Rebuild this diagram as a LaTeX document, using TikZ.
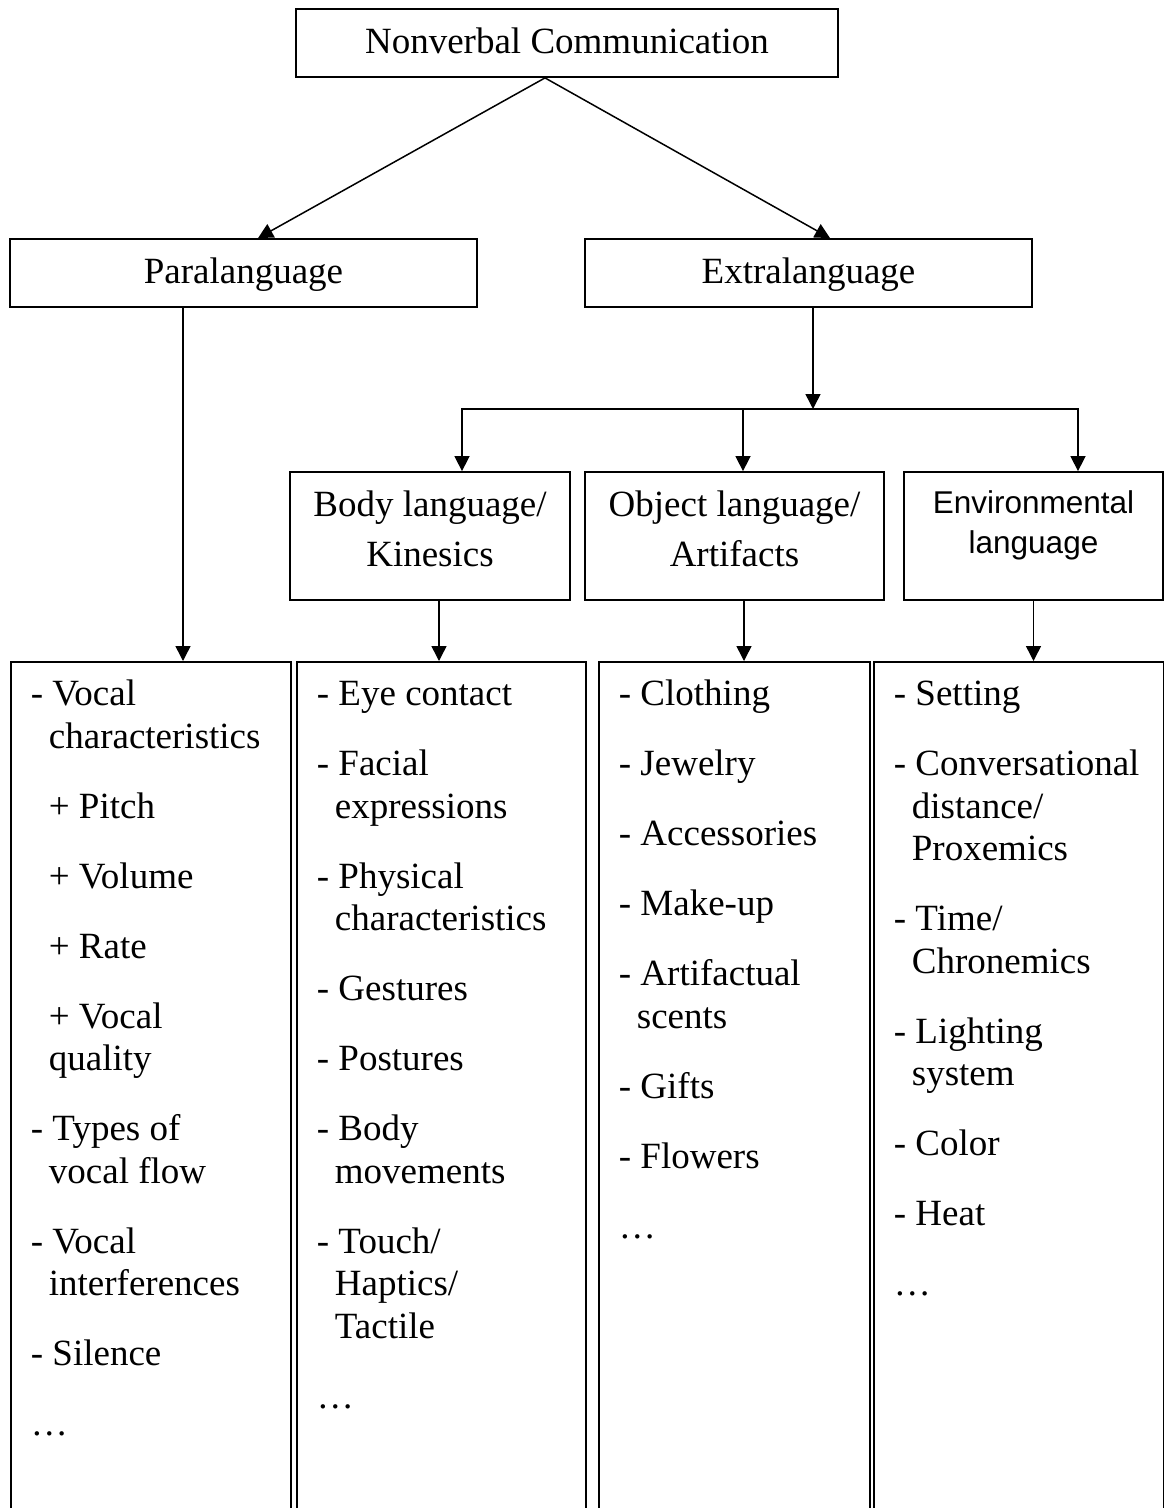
\documentclass[tikz,border=0pt]{standalone}
\usepackage{fontspec}
\setmainfont{Liberation Serif}
\newfontfamily\envfont{Liberation Sans}
\usetikzlibrary{positioning,arrows.meta}
\newcommand{\subind}{\hspace*{18pt}}
\newcommand{\nextitem}{\\[27.5pt]}

\begin{document}
\begin{tikzpicture}[
x=1pt, y=-1pt, line width=1.5pt,
font=\fontsize{37}{42.5}\selectfont,
>={Triangle[length=15pt,width=15pt]},
labelbox/.style={draw, line width=1.8pt, inner sep=0pt, align=center, text height=44pt, text depth=24pt},
twoline/.style={labelbox, font=\fontsize{37}{50}\selectfont, text height=94pt, text depth=34pt},
listbox/.style={draw, line width=1.8pt, anchor=north west, inner xsep=20pt, inner ysep=0pt, text height=44pt, text depth=880pt}
]
\path[use as bounding box, clip] (0,0) rectangle (1164,1508);

\node[labelbox, minimum width=542pt](nvc) at (567,43) {Nonverbal Communication};
\node[labelbox, minimum width=467pt](para_box) at (243.5,273) {Paralanguage};
\node[labelbox, minimum width=447pt](extra_box) at (808.5,273) {Extralanguage};

\node[twoline, minimum width=280pt](body_box) at (430,536) {Body language/\\Kinesics};
\node[twoline, minimum width=299pt](obj_box) at (734.5,536) {Object language/\\Artifacts};
\node[twoline, minimum width=259pt, text height=81pt, text depth=47pt,
  font=\envfont\fontsize{31.5}{40}\selectfont](env_box) at (1033.5,536) {Environmental\\language};

\node[listbox](para_list) at (10,661) {\begin{minipage}[t]{240pt}
- Vocal\\
\subind characteristics\nextitem
\subind + Pitch\nextitem
\subind + Volume\nextitem
\subind + Rate\nextitem
\subind + Vocal\\
\subind quality\nextitem
- Types of\\
\subind vocal flow\nextitem
- Vocal\\
\subind interferences\nextitem
- Silence\nextitem
…
\end{minipage}};
\node[listbox](body_list) at (296,661) {\begin{minipage}[t]{249pt}
- Eye contact\nextitem
- Facial\\
\subind expressions\nextitem
- Physical\\
\subind characteristics\nextitem
- Gestures\nextitem
- Postures\nextitem
- Body\\
\subind movements\nextitem
- Touch/\\
\subind Haptics/\\
\subind Tactile\nextitem
…
\end{minipage}};
\node[listbox](obj_list) at (598,661) {\begin{minipage}[t]{231pt}
- Clothing\nextitem
- Jewelry\nextitem
- Accessories\nextitem
- Make-up\nextitem
- Artifactual\\
\subind scents\nextitem
- Gifts\nextitem
- Flowers\nextitem
…
\end{minipage}};
\node[listbox](env_list) at (873,661) {\begin{minipage}[t]{250pt}
- Setting\nextitem
- Conversational\\
\subind distance/\\
\subind Proxemics\nextitem
- Time/\\
\subind Chronemics\nextitem
- Lighting\\
\subind system\nextitem
- Color\nextitem
- Heat\nextitem
…
\end{minipage}};

% top split
\coordinate (split) at ([xshift=-22pt]nvc.south);
\draw[->] (split) -- ([xshift=14.5pt]para_box.north);
\draw[->] (split) -- ([xshift=21.5pt]extra_box.north);

% paralanguage down to its list
\coordinate (para_out) at ([xshift=-60.5pt]para_box.south);
\draw[->] (para_out) -- (para_out |- para_list.north);

% extralanguage to the three kinds
\coordinate (bus) at (813,409);
\coordinate (body_in) at ([xshift=32pt]body_box.north);
\coordinate (obj_in) at ([xshift=8.5pt]obj_box.north);
\coordinate (env_in) at ([xshift=44.5pt]env_box.north);
\draw[->] ([xshift=4.5pt]extra_box.south) -- (bus);
\draw[->] (bus) -| (body_in);
\draw[->] (bus) -| (env_in);
\draw[->] (obj_in |- bus) -- (obj_in);

% kinds down to their lists
\coordinate (body_out) at ([xshift=9pt]body_box.south);
\coordinate (obj_out) at ([xshift=9.5pt]obj_box.south);
\draw[->] (body_out) -- (body_out |- body_list.north);
\draw[->] (obj_out) -- (obj_out |- obj_list.north);
\draw[->] (env_box.south) -- (env_box.south |- env_list.north);
\end{tikzpicture}
\end{document}
